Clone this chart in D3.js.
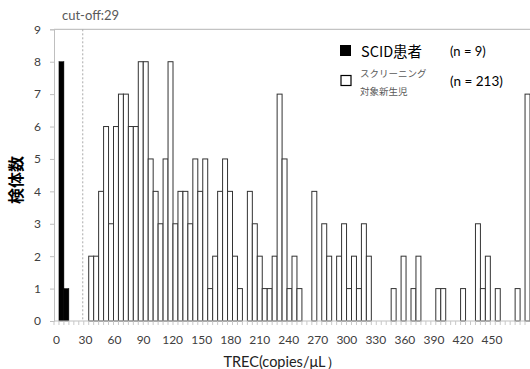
<!DOCTYPE html>
<html><head><meta charset="utf-8">
<script src="https://cdn.jsdelivr.net/npm/d3@7"></script>
<style>body{margin:0;background:#fff}svg{display:block}</style>
</head><body>
<script>
// bins of 5 copies/uL, categories 0..95
const binStarts = d3.range(96).map(i => i * 5);
const scidCounts = {5: 8, 10: 1};
const screeningCounts = [
 0,0,0,0,0,0,0,2,2,4, 6,3,6,7,7,6,6,8,8,5,
 4,3,5,8,3,4,4,3,5,4, 5,1,2,4,5,4,2,1,0,4,
 3,2,1,1,2,7,5,1,2,1, 0,0,4,0,3,2,0,2,3,1,
 2,1,3,2,0,0,0,0,1,0, 2,0,1,2,0,0,0,1,1,0,
 0,0,1,0,0,3,1,2,0,1, 0,0,0,1,0,7];
const yTicks = [0,1,2,3,4,5,6,7,8,9];
const xTickLabels = [0,30,60,90,120,150,180,210,240,270,300,330,360,390,420,450];
const cutoff = 29;
const legendItems = [
  {label: "SCID患者", n: "(n = 9)"},
  {label: ["スクリーニング", "対象新生児"], n: "(n = 213)"}
];

const W = 530, H = 369;
const svg = d3.select("body").append("svg").attr("width", W).attr("height", H);
svg.append("rect").attr("width", W).attr("height", H).attr("fill", "#fff");

const x = d3.scaleBand().domain(binStarts).range([54, 530]).padding(0);
const xv = d3.scaleLinear().domain([0, 5]).range([54, 54 + x.bandwidth()]);
const xl = d3.scaleLinear().domain([0, 450]).range([56.5, 492]);
const y = d3.scaleLinear().domain([0, 9]).range([321, 29.3]);
const LATIN = "Lato, 'Noto Sans', sans-serif";
const CJK = "'Noto Sans CJK JP', sans-serif";

// top border line
svg.append("line").attr("x1", 54).attr("x2", W).attr("y1", y(9)).attr("y2", y(9))
  .attr("stroke", "#b5b5b5").attr("stroke-width", 1);

// screening bars
const scr = binStarts.map((b, i) => ({b, v: screeningCounts[i]})).filter(d => d.v > 0);
svg.append("g").selectAll("rect").data(scr).join("rect")
  .attr("x", d => x(d.b)).attr("width", x.bandwidth())
  .attr("y", d => y(d.v)).attr("height", d => y(0) - y(d.v))
  .attr("fill", "#fff").attr("stroke", "#333").attr("stroke-width", 1);

// SCID bars
const scid = Object.entries(scidCounts).map(([b, v]) => ({b: +b, v}));
svg.append("g").selectAll("rect").data(scid).join("rect")
  .attr("x", d => x(d.b)).attr("width", x.bandwidth())
  .attr("y", d => y(d.v)).attr("height", d => y(0) - y(d.v))
  .attr("fill", "#000").attr("stroke", "#000").attr("stroke-width", 0.5);

// cutoff line
svg.append("line").attr("x1", xv(cutoff)).attr("x2", xv(cutoff))
  .attr("y1", y(9)).attr("y2", y(0))
  .attr("stroke", "#aaa").attr("stroke-width", 1).attr("stroke-dasharray", "2,2");
svg.append("text").attr("x", 62).attr("y", 20).text("cut-off:" + cutoff)
  .attr("font-family", LATIN).attr("font-size", 13).attr("fill", "#595959");

// y axis
const ya = svg.append("g").attr("transform", "translate(54,0)")
  .call(d3.axisLeft(y).tickValues(yTicks).tickSize(4).tickPadding(9));
ya.select(".domain").attr("stroke", "#bfbfbf");
ya.selectAll(".tick line").attr("stroke", "#bfbfbf");
ya.selectAll(".tick text").attr("font-family", LATIN).attr("font-size", 12).attr("fill", "#404040");

// x axis
const xa = svg.append("g");
xa.append("line").attr("x1", 54).attr("x2", W).attr("y1", y(0)).attr("y2", y(0)).attr("stroke", "#bfbfbf");
xa.selectAll("line.t").data(binStarts).join("line").attr("class", "t")
  .attr("x1", d => x(d)).attr("x2", d => x(d)).attr("y1", y(0)).attr("y2", y(0) + 4)
  .attr("stroke", "#c8c8c8");
xa.selectAll("text").data(xTickLabels).join("text")
  .attr("x", d => xl(d)).attr("y", 344)
  .attr("text-anchor", "middle").text(d => d)
  .attr("font-family", LATIN).attr("font-size", 12).attr("fill", "#404040");

// axis titles
svg.append("text").attr("x", 282).attr("y", 367).attr("text-anchor", "middle")
  .text("TREC(copies/μL）").attr("font-family", LATIN).attr("font-size", 14.5).attr("fill", "#222");
svg.append("text").attr("transform", "translate(22,180) rotate(-90)").attr("text-anchor", "middle")
  .text("検体数").attr("font-family", CJK).attr("font-size", 16).attr("font-weight", "bold").attr("fill", "#000");

// legend
svg.append("rect").attr("x", 340).attr("y", 45).attr("width", 11).attr("height", 11).attr("fill", "#000");
svg.append("text").attr("x", 361).attr("y", 57).text(legendItems[0].label)
  .attr("font-family", CJK).attr("font-size", 14.5).attr("fill", "#000");
svg.append("text").attr("x", 450).attr("y", 56).text(legendItems[0].n)
  .attr("font-family", LATIN).attr("font-size", 13).attr("fill", "#000");
svg.append("rect").attr("x", 341).attr("y", 75.5).attr("width", 10).attr("height", 10)
  .attr("fill", "#fff").attr("stroke", "#000").attr("stroke-width", 1.2);
legendItems[1].label.forEach((t, i) => svg.append("text").attr("x", 360).attr("y", 77 + i * 18).text(t)
  .attr("font-family", CJK).attr("font-size", 9.5).attr("fill", "#595959"));
svg.append("text").attr("x", 450).attr("y", 86).text(legendItems[1].n)
  .attr("font-family", LATIN).attr("font-size", 13.5).attr("fill", "#000");
</script>
</body></html>
